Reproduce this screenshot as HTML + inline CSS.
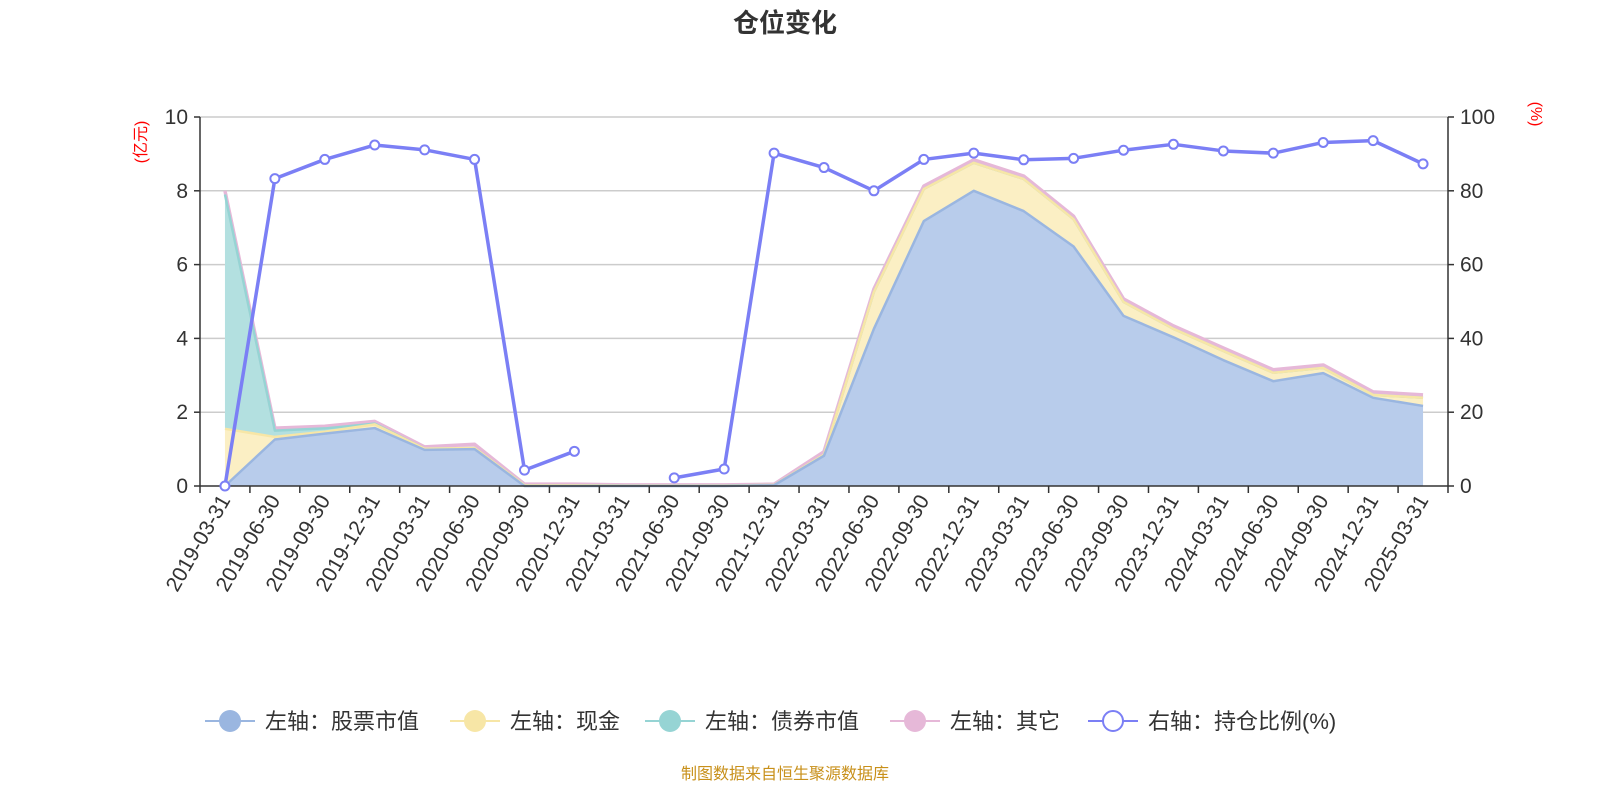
<!DOCTYPE html>
<html><head><meta charset="utf-8"><style>
body{margin:0;background:#fff;width:1600px;height:800px;overflow:hidden;font-family:"Liberation Sans","Noto Sans CJK SC",sans-serif;}
</style></head><body>
<svg id="chart" width="1600" height="800" xmlns="http://www.w3.org/2000/svg" style="font-family:'Liberation Sans','Noto Sans CJK SC',sans-serif">
<text x="785" y="32" text-anchor="middle" font-size="26" font-weight="bold" fill="#333">仓位变化</text>
<text transform="translate(146,142) rotate(-90)" text-anchor="middle" font-size="16" fill="#f00">(亿元)</text>
<text transform="translate(1531,114) rotate(90)" text-anchor="middle" font-size="16" fill="#f00">(%)</text>
<g id="grid"></g><g id="areas"></g><g id="axes"></g><g id="ratio"></g><g id="legend"></g>
<text x="785" y="779" text-anchor="middle" font-size="16" fill="#c8901a">制图数据来自恒生聚源数据库</text>
</svg>
<script>
const categories=["2019-03-31","2019-06-30","2019-09-30","2019-12-31","2020-03-31","2020-06-30","2020-09-30","2020-12-31","2021-03-31","2021-06-30","2021-09-30","2021-12-31","2022-03-31","2022-06-30","2022-09-30","2022-12-31","2023-03-31","2023-06-30","2023-09-30","2023-12-31","2024-03-31","2024-06-30","2024-09-30","2024-12-31","2025-03-31"];
const stockValues=[0,1.26,1.42,1.57,0.98,1.0,0,0,0,0,0,0.02,0.82,4.26,7.18,8.0,7.45,6.49,4.61,4.03,3.41,2.84,3.06,2.39,2.17];
const cashValues=[1.55,0.07,0.05,0.1,0.03,0.03,0.02,0.02,0.01,0.01,0.01,0.01,0.03,1.0,0.87,0.76,0.87,0.74,0.38,0.23,0.25,0.23,0.14,0.08,0.22];
const bondValues=[6.35,0.17,0.09,0.02,0,0,0,0,0,0,0,0,0,0,0,0,0,0,0,0,0,0,0,0,0];
const otherValues=[0.1,0.07,0.06,0.06,0.05,0.1,0.03,0.03,0.02,0.02,0.02,0.02,0.08,0.08,0.08,0.08,0.08,0.08,0.08,0.08,0.08,0.08,0.08,0.08,0.08];
const ratioValues=[0,83.3,88.5,92.4,91.1,88.5,4.3,9.4,null,2.2,4.6,90.2,86.3,80.0,88.5,90.2,88.4,88.8,91.0,92.6,90.8,90.2,93.1,93.6,87.3];
const leftTicks=[0,2,4,6,8,10];
const rightTicks=[0,20,40,60,80,100];
const NS="http://www.w3.org/2000/svg";
const X0=200,X1=1448,Y0=486,Y1=117;
const band=(X1-X0)/categories.length;
const xs=i=>X0+band*(i+0.5);
const yl=v=>Y0-(v/10)*(Y0-Y1);
const yr=v=>Y0-(v/100)*(Y0-Y1);
function mk(tag,attrs,parent){const e=document.createElementNS(NS,tag);for(const k in attrs)e.setAttribute(k,attrs[k]);parent.appendChild(e);return e;}
const grid=document.getElementById('grid'),axes=document.getElementById('axes'),areas=document.getElementById('areas'),ratio=document.getElementById('ratio'),legend=document.getElementById('legend');
leftTicks.forEach((t,i)=>{
  const y=yl(t);
  if(t>0){const g=mk('line',{x1:X0,x2:X1,y1:y,y2:y,stroke:'#ccc','stroke-width':1.5},grid);
  
  }
  const tk=mk('line',{x1:X0-6,x2:X0,y1:y,y2:y,stroke:'#333','stroke-width':1.5},axes);
  
  
  const l=mk('text',{x:X0-12,y:y+7,'text-anchor':'end','font-size':21,fill:'#333'},axes);l.textContent=t;
  
  
});
rightTicks.forEach(t=>{
  const y=yr(t);
  const tk=mk('line',{x1:X1,x2:X1+6,y1:y,y2:y,stroke:'#333','stroke-width':1.5},axes);
  
  
  const l=mk('text',{x:X1+12,y:y+7,'font-size':21,fill:'#333'},axes);l.textContent=t;
  
  
});
const layers=[[stockValues,'#b8cceb','#9ab6e0','stock'],[cashValues,'#fbefc4','#f7e6a6','cash'],[bondValues,'#b3e0e0','#96d4d4','bond'],[otherValues,'#f0d8ea','#e6b8d8','other']];
let base=categories.map(()=>0);
const tops=[];
layers.forEach(([vals,fill,stroke,nm])=>{
  const top=base.map((b,i)=>b+vals[i]);
  let d='M'+categories.map((c,i)=>xs(i)+','+yl(top[i])).join('L');
  d+='L'+categories.map((c,i)=>i).reverse().map(i=>xs(i)+','+yl(base[i])).join('L')+'Z';
  const a=mk('path',{d:d,fill:fill,stroke:'none'},areas);
  
  
  tops.push(top);
  base=top;
});
[3,2,1,0].forEach(k=>{
  const [vals,fill,stroke,nm]=layers[k];
  const top=tops[k];
  const ln=mk('polyline',{points:categories.map((c,i)=>xs(i)+','+yl(top[i])).join(' '),fill:'none',stroke:stroke,'stroke-width':nm==='other'?3.5:2.5,'stroke-linejoin':'round'},areas);
  
  
});
const ax=mk('line',{x1:X0,x2:X1,y1:Y0,y2:Y0,stroke:'#333','stroke-width':1.5},axes);


[X0,X1].forEach(x=>{const v=mk('line',{x1:x,x2:x,y1:Y1,y2:Y0,stroke:'#333','stroke-width':1.5},axes);

});
for(let k=0;k<=categories.length;k++){const x=X0+band*k;const t=mk('line',{x1:x,x2:x,y1:Y0,y2:Y0+7,stroke:'#333','stroke-width':1.5},axes);

}
categories.forEach((c,i)=>{
  const t=mk('text',{transform:`translate(${xs(i)+6},${Y0+14}) rotate(-60)`,'text-anchor':'end','font-size':21,fill:'#333'},axes);t.textContent=c;
  
  
});
let seg=[];const segs=[];
ratioValues.forEach((v,i)=>{if(v===null){if(seg.length)segs.push(seg);seg=[];}else seg.push([xs(i),yr(v)]);});
if(seg.length)segs.push(seg);
segs.forEach(s=>{const p=mk('polyline',{points:s.map(q=>q.join(',')).join(' '),fill:'none',stroke:'#7b7ff5','stroke-width':3.5,'stroke-linejoin':'round'},ratio);

});
ratioValues.forEach((v,i)=>{if(v===null)return;const c=mk('circle',{cx:xs(i),cy:yr(v),r:4.5,fill:'#fff',stroke:'#7b7ff5','stroke-width':2},ratio);

});
const items=[[205,'#9ab6e0','左轴：股票市值',false],[450,'#f7e6a6','左轴：现金',false],[645,'#96d4d4','左轴：债券市值',false],[890,'#e6b8d8','左轴：其它',false],[1088,'#7b7ff5','右轴：持仓比例(%)',true]];
items.forEach(([x,col,label,hollow])=>{
  const g=mk('g',{},legend);
  
  
  mk('line',{x1:x,x2:x+50,y1:721,y2:721,stroke:col,'stroke-width':2},g);
  mk('circle',{cx:x+25,cy:721,r:hollow?10:11,fill:hollow?'#fff':col,stroke:col,'stroke-width':hollow?2:0},g);
  const t=mk('text',{x:x+60,y:729,'font-size':22,fill:'#333'},g);t.textContent=label;
});
</script>
</body></html>
